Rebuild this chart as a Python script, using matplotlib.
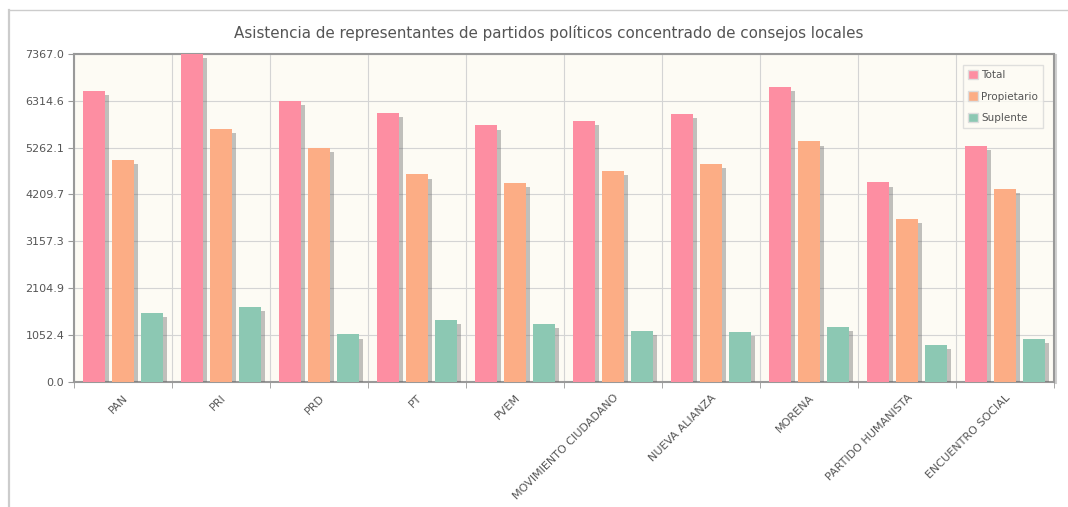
import numpy as np
import matplotlib
matplotlib.use("Agg")
import matplotlib.pyplot as plt
import matplotlib.patheffects as pe
from matplotlib.lines import Line2D

partidos = ["PAN", "PRI", "PRD", "PT", "PVEM", "MOVIMIENTO CIUDADANO",
            "NUEVA ALIANZA", "MORENA", "PARTIDO HUMANISTA", "ENCUENTRO SOCIAL"]
total = [6530, 7367, 6310, 6040, 5760, 5870, 6010, 6630, 4480, 5300]
propietario = [4980, 5680, 5250, 4660, 4460, 4730, 4900, 5400, 3660, 4340]
suplente = [1550, 1687, 1060, 1380, 1300, 1140, 1110, 1230, 820, 960]
series_names = ["Total", "Propietario", "Suplente"]
colores = ["#fd8ea2", "#fcad85", "#8cc8b3"]

ymax = 7367.0
yticks = [ymax * i / 7 for i in range(8)]

fig = plt.figure(figsize=(10.68, 5.07), dpi=100)
fig.patch.set_facecolor("white")

# frame of the widget: left and top edges only
fig.lines.append(Line2D([8.5 / 1068, 8.5 / 1068], [0, 1 - 10 / 507], transform=fig.transFigure,
                        color="#cccccc", linewidth=1.6))
fig.lines.append(Line2D([8.5 / 1068, 1], [1 - 10 / 507, 1 - 10 / 507], transform=fig.transFigure,
                        color="#cccccc", linewidth=1.0))

ax = fig.add_axes([74 / 1068, 1 - 381.5 / 507, (1054 - 74) / 1068, (381.5 - 54) / 507])
ax.set_facecolor("#fdfbf4")

x = np.arange(len(partidos))
w = 0.225
shadow = [pe.SimplePatchShadow(offset=(3, -3), shadow_rgbFace="#666666", alpha=0.4), pe.Normal()]
for k, (vals, name, col) in enumerate(zip([total, propietario, suplente], series_names, colores)):
    bars = ax.bar(x + (k - 1) * 0.296, vals, width=w, color=col, label=name, zorder=3)
    for b in bars:
        b.set_path_effects(shadow)

ax.set_xlim(-0.5, len(partidos) - 0.5)
ax.set_ylim(0, ymax)
ax.set_yticks(yticks)
ax.set_yticklabels([f"{v:.1f}" for v in yticks])
ax.set_xticks(x)
ax.set_xticklabels(partidos, rotation=45, ha="right", rotation_mode="anchor")
ax.set_xticks(np.arange(len(partidos) + 1) - 0.5, minor=True)
ax.tick_params(axis="x", which="major", length=0, pad=8, labelsize=8, labelcolor="#555555")
ax.tick_params(axis="x", which="minor", length=4, color="#999999")
ax.tick_params(axis="y", length=4, color="#999999", labelsize=8, labelcolor="#555555", pad=3)
ax.grid(axis="y", which="major", color="#d4d4d4", linewidth=0.8, zorder=0)
ax.grid(axis="x", which="minor", color="#d4d4d4", linewidth=0.8, zorder=0)
ax.set_axisbelow(True)
for s in ax.spines.values():
    s.set_color("#999999")
    s.set_linewidth(1.5)
ax.spines["right"].set_path_effects([pe.SimpleLineShadow(offset=(1.5, -1), shadow_color="#888888", alpha=0.4), pe.Normal()])

leg = ax.legend(loc="upper right", bbox_to_anchor=((1043 - 74) / 980, (381.5 - 65) / 327.5),
                borderaxespad=0, fontsize=7.5,
                frameon=True, fancybox=False, handlelength=1.0, handleheight=1.0,
                handletextpad=0.3, labelspacing=1.1, borderpad=0.45,
                labelcolor="#555555")
leg.get_frame().set_edgecolor("#d8d8d8")
leg.get_frame().set_facecolor("#fdfbf4")
for h in leg.legend_handles:
    h.set_path_effects([])
    h.set_edgecolor("#dddddd")

fig.text(549 / 1068, 1 - 33 / 507, "Asistencia de representantes de partidos políticos concentrado de consejos locales",
         ha="center", va="center", fontsize=10.9, color="#555555")

fig.savefig("out.png", dpi=100)
